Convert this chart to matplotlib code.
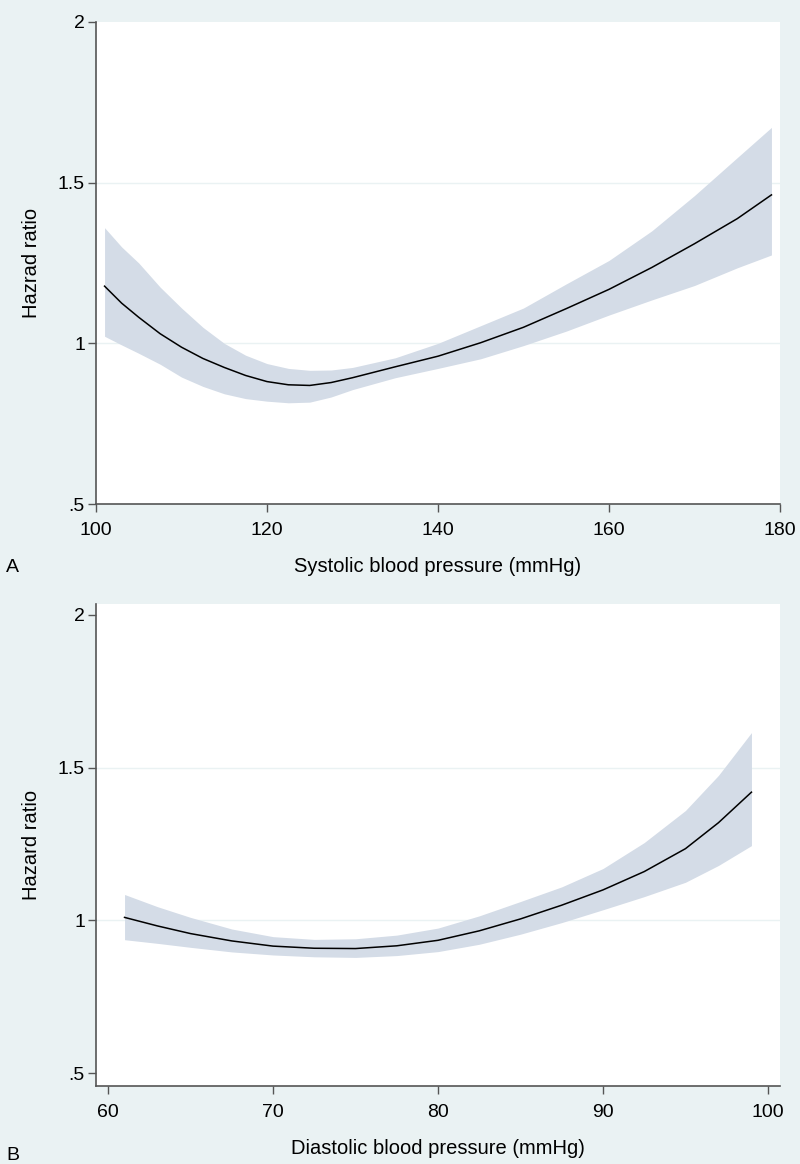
import matplotlib
matplotlib.use("Agg")
import matplotlib.pyplot as plt

plt.rcParams['font.family'] = ['Liberation Sans', 'DejaVu Sans']

# panel A: systolic blood pressure
sbp = [101, 103, 105, 107.5, 110, 112.5, 115, 117.5, 120, 122.5, 125, 127.5,
       130, 135, 140, 145, 150, 155, 160, 165, 170, 175, 179]
sbp_hr = [1.178, 1.125, 1.081, 1.03, 0.988, 0.953, 0.925, 0.900, 0.881, 0.871,
          0.869, 0.878, 0.893, 0.927, 0.960, 1.002, 1.050, 1.108, 1.168, 1.236,
          1.31, 1.388, 1.462]
sbp_hi = [1.36, 1.30, 1.25, 1.175, 1.11, 1.05, 1.0, 0.963, 0.937, 0.922, 0.916,
          0.917, 0.925, 0.955, 1.0, 1.055, 1.11, 1.185, 1.258, 1.35, 1.46, 1.578,
          1.672]
sbp_lo = [1.022, 0.995, 0.969, 0.935, 0.895, 0.866, 0.843, 0.828, 0.82, 0.815,
          0.817, 0.833, 0.856, 0.893, 0.922, 0.952, 0.993, 1.038, 1.088, 1.135,
          1.18, 1.235, 1.275]

# panel B: diastolic blood pressure
dbp = [61, 63, 65, 67.5, 70, 72.5, 75, 77.5, 80, 82.5, 85, 87.5, 90, 92.5, 95, 97, 99]
dbp_hr = [1.01, 0.982, 0.957, 0.933, 0.916, 0.909, 0.908, 0.917, 0.935, 0.966,
          1.005, 1.05, 1.10, 1.16, 1.235, 1.32, 1.42]
dbp_hi = [1.085, 1.045, 1.01, 0.972, 0.947, 0.938, 0.94, 0.952, 0.975, 1.015,
          1.062, 1.11, 1.17, 1.255, 1.36, 1.475, 1.615]
dbp_lo = [0.937, 0.925, 0.912, 0.897, 0.887, 0.881, 0.879, 0.885, 0.898, 0.922,
          0.955, 0.993, 1.035, 1.078, 1.125, 1.18, 1.245]

y_ticks = [0.5, 1, 1.5, 2]
y_labels = ['.5', '1', '1.5', '2']

bg = '#eaf2f3'
band = '#d4dce7'
axcol = '#555555'

fig = plt.figure(figsize=(8, 11.64), dpi=100, facecolor=bg)
axA = fig.add_axes([0.12, 0.567, 0.855, 0.4141])
axB = fig.add_axes([0.12, 0.067, 0.855, 0.4141])


def panel(ax, x, hr, lo, hi, xlim, ylim, xticks, xlabel, ylabel):
    ax.set_facecolor('white')
    for v in (1, 1.5):
        ax.axhline(v, color=bg, lw=1, zorder=0)
    ax.fill_between(x, lo, hi, color=band, lw=0, zorder=1)
    ax.plot(x, hr, color='black', lw=1.1, zorder=2)
    ax.set_xlim(*xlim)
    ax.set_ylim(*ylim)
    ax.set_xticks(xticks)
    ax.set_yticks(y_ticks)
    ax.set_yticklabels(y_labels)
    ax.spines['top'].set_visible(False)
    ax.spines['right'].set_visible(False)
    for s in ('left', 'bottom'):
        ax.spines[s].set_color(axcol)
        ax.spines[s].set_linewidth(1.2)
    ax.tick_params(axis='both', colors=axcol, labelcolor='black', length=6,
                   width=1, labelsize=14)
    ax.tick_params(axis='x', pad=7)
    ax.tick_params(axis='y', pad=2)
    ax.set_xlabel(xlabel, fontsize=14.5, labelpad=13)
    ax.set_ylabel(ylabel, fontsize=14.5, labelpad=12)


panel(axA, sbp, sbp_hr, sbp_lo, sbp_hi, (100, 180), (0.5, 2),
      [100, 120, 140, 160, 180], 'Systolic blood pressure (mmHg)', 'Hazrad ratio')
panel(axB, dbp, dbp_hr, dbp_lo, dbp_hi, (59.27, 100.73), (0.458, 2.036),
      [60, 70, 80, 90, 100], 'Diastolic blood pressure (mmHg)', 'Hazard ratio')

fig.text(0.008, 1 - 568 / 1164, 'A', fontsize=14, va='center', ha='left')
fig.text(0.008, 1 - 1156 / 1164, 'B', fontsize=14, va='center', ha='left')

fig.savefig('out.png', dpi=100, facecolor=bg)
